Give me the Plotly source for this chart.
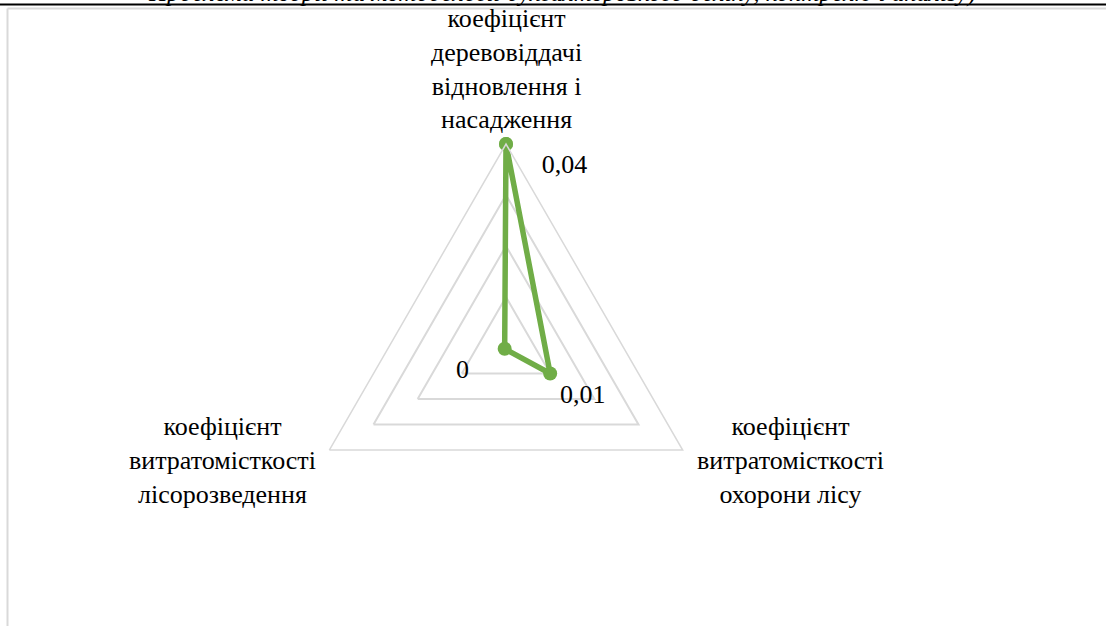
import plotly.graph_objects as go

# categories (clockwise from the top) and values
categories = [
    'коефіцієнт деревовіддачі відновлення і насадження',
    'коефіцієнт витратомісткості охорони лісу',
    'коефіцієнт витратомісткості лісорозведення',
]
category_labels = [
    'коефіцієнт<br>деревовіддачі<br>відновлення і<br>насадження',
    'коефіцієнт<br>витратомісткості<br>охорони лісу',
    'коефіцієнт<br>витратомісткості<br>лісорозведення',
]
values = [0.040, 0.010, 0.0003]
value_labels = ['0,04', '0,01', '0']

header = 'Проблеми теорії та методології бухгалтерського обліку, контролю і аналізу)'

GREEN = '#70ad47'
GRID = '#d9d9d9'
SERIF = 'Liberation Serif, Times New Roman, serif'
NB = '\u00a0'

W, H = 1106, 626

fig = go.Figure()

# close the polygon by repeating the first point
fig.add_trace(go.Scatterpolar(
    r=values + values[:1],
    theta=categories + categories[:1],
    mode='lines+markers+text',
    text=[NB * 4 + value_labels[0], value_labels[1], value_labels[2] + NB * 4, ''],
    textposition=['bottom right', 'bottom right', 'bottom left', 'bottom right'],
    textfont=dict(family=SERIF, size=26, color='#000000'),
    line=dict(color=GREEN, width=5.5),
    marker=dict(color=GREEN, size=14),
    cliponaxis=False,
    showlegend=False,
    hoverinfo='skip',
))

cx, cy, rad = 506, 348, 204
fig.update_layout(
    width=W, height=H,
    margin=dict(l=0, r=0, t=0, b=0),
    paper_bgcolor='white',
    font=dict(family=SERIF, size=26, color='#000000'),
    polar=dict(
        domain=dict(x=[(cx - rad) / W, (cx + rad) / W],
                    y=[(H - cy - rad) / H, (H - cy + rad) / H]),
        gridshape='linear',
        bgcolor='white',
        radialaxis=dict(range=[0, 0.04], dtick=0.01, showticklabels=False,
                        showline=False, ticks='', gridcolor=GRID, gridwidth=1.5),
        angularaxis=dict(rotation=90, direction='clockwise', showgrid=False,
                         showline=True, linecolor=GRID, linewidth=1.5, ticks='',
                         showticklabels=False),
    ),
    shapes=[
        dict(type='line', xref='paper', yref='paper', x0=0, x1=1,
             y0=1 - 4.5 / H, y1=1 - 4.5 / H, line=dict(color='#000000', width=2)),
        dict(type='line', xref='paper', yref='paper', x0=7.5 / W, x1=1,
             y0=1 - 8.5 / H, y1=1 - 8.5 / H, line=dict(color=GRID, width=2)),
        dict(type='line', xref='paper', yref='paper', x0=7.5 / W, x1=7.5 / W,
             y0=0, y1=1 - 8.5 / H, line=dict(color=GRID, width=2)),
    ],
    annotations=[
        dict(text='<i>' + header + '</i>', xref='paper', yref='paper',
             x=562 / W, y=1 - 9 / H, xanchor='center', yanchor='bottom',
             showarrow=False, font=dict(family=SERIF, size=25, color='#000000')),
        # category labels, centred like the spreadsheet does it
        dict(text=category_labels[0], xref='paper', yref='paper',
             x=cx / W, y=1 - 136 / H, xanchor='center', yanchor='bottom',
             align='center', showarrow=False),
        dict(text=category_labels[1], xref='paper', yref='paper',
             x=790 / W, y=1 - 460 / H, xanchor='center', yanchor='middle',
             align='center', showarrow=False),
        dict(text=category_labels[2], xref='paper', yref='paper',
             x=222 / W, y=1 - 460 / H, xanchor='center', yanchor='middle',
             align='center', showarrow=False),
    ],
)

fig.write_html('out.html', config={'displayModeBar': False},
               post_script="document.body.style.margin='0';")
